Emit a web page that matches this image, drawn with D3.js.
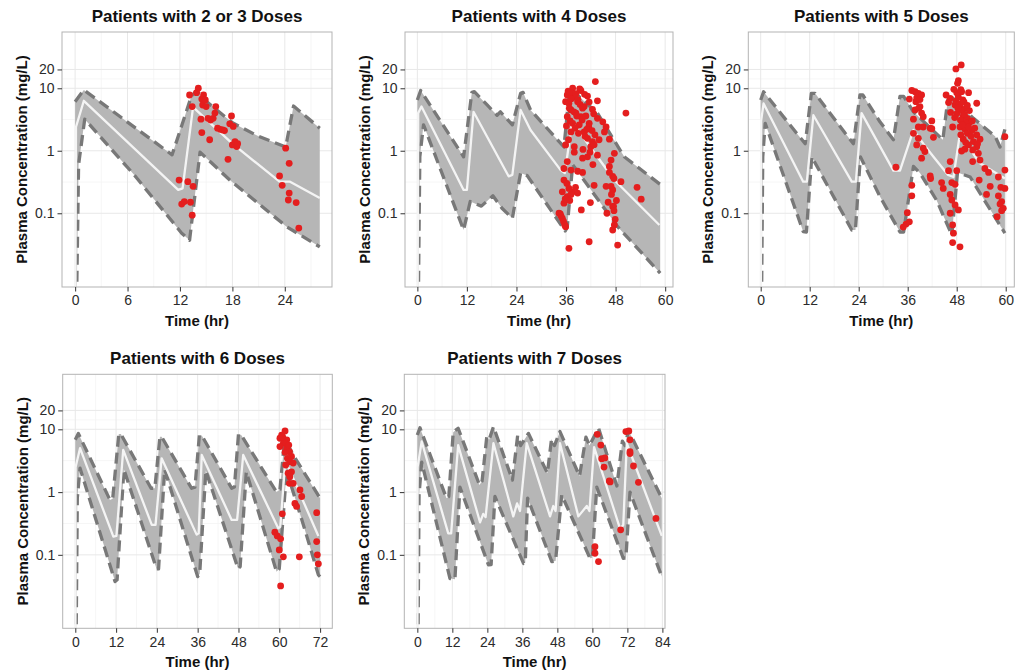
<!DOCTYPE html>
<html>
<head>
<meta charset="utf-8">
<script src="https://cdn.jsdelivr.net/npm/d3@7/dist/d3.min.js"></script>
<style>
  body { margin: 0; background: #fff; }
  svg { display: block; }
</style>
</head>
<body>
<svg id="chart" width="1016" height="672"></svg>
<script>
// ---------------------------------------------------------------
// Visual predictive check: simulated 5th / 50th / 95th percentiles
// (time in hours, concentration in mg/L) with observed concentrations.
// ---------------------------------------------------------------

const panelTitles = [
  "Patients with 2 or 3 Doses",
  "Patients with 4 Doses",
  "Patients with 5 Doses",
  "Patients with 6 Doses",
  "Patients with 7 Doses"
];

const xTicks1 = [0, 6, 12, 18, 24];
const xTicks2 = [0, 12, 24, 36, 48, 60];
const xTicks3 = [0, 12, 24, 36, 48, 60];
const xTicks4 = [0, 12, 24, 36, 48, 60, 72];
const xTicks5 = [0, 12, 24, 36, 48, 60, 72, 84];

const yTicks = [0.1, 1, 10, 20];
const yTickLabels = ["0.1", "1", "10", "20"];
const yTitle = "Plasma Concentration (mg/L)";
const xTitle = "Time (hr)";

// ---- 2 or 3 doses ----
const p1Upper = [[0,6.1],[1.0,9.4],[11.1,0.86],[13.3,7.4],[13.9,9.2],[15,6.2],[18,2.8],[21,1.7],[24.1,1.15],[25.0,5.2],[28,2.3]];
const p1Median = [[0,0.0001],[0.1,2.4],[1.0,6.3],[11.8,0.236],[12.3,0.25],[13.5,5.0],[18,1.3],[23.4,0.32],[24.6,0.32],[28,0.175]];
const p1Lower = [[0,0.0001],[0.4,0.6],[1.1,3.2],[6.7,0.42],[12.2,0.048],[13.1,0.037],[14.3,0.95],[17.7,0.34],[24.2,0.061],[28,0.029]];
const p1Obs = [
  [11.9,0.34],[12.2,0.14],[12.5,0.154],[12.9,0.32],[13.2,0.15],[13.5,0.27],[13.4,0.093],
  [13.1,7.8],[13.4,5.1],[13.9,8.5],[14.1,10],[14.5,6.7],[14.7,7.8],[14.6,5.4],[14.9,6.5],[15.0,5.1],
  [14.4,3.2],[14.5,1.95],[15.2,3.3],[15.4,1.5],[15.5,3.1],[15.8,3.3],[16.0,4.0],[16.1,5.1],[16.3,2.3],
  [16.6,2.2],[16.9,2.15],[17.1,2.1],[17.7,2.7],[17.9,3.6],[18.1,2.45],[17.5,0.73],[18.0,1.24],[18.3,1.4],
  [18.5,1.17],[18.6,1.3],
  [23.4,0.395],[23.7,0.28],[24.1,1.1],[24.5,0.63],[24.5,0.21],[24.4,0.163],[25.3,0.148],[25.6,0.058]
];

// ---- 4 doses ----
const p2Upper = [[0,6.5],[0.8,9.2],[11.2,0.8],[13.2,8.6],[13.8,8.8],[16.9,5.4],[19.3,3.7],[20.1,4.2],[23.0,2.6],[25.0,8.3],[25.6,8.6],[27.4,4.5],[35.5,1.15],[36.8,8.5],[37.5,9.2],[43.6,4.0],[50.1,0.8],[58.8,0.29]];
const p2Median = [[0,0.0001],[0.2,4.0],[1.0,5.1],[11.2,0.236],[12.0,0.236],[13.6,4.2],[22.1,0.39],[23.0,0.41],[25.0,4.5],[27.4,2.15],[34.7,0.49],[35.7,0.44],[37.5,2.9],[41.2,1.32],[47.7,0.34],[58.6,0.065]];
const p2Lower = [[0,0.0001],[0.6,0.8],[1.5,2.6],[11.2,0.054],[12.8,0.154],[15.5,0.13],[18.3,0.19],[20.5,0.12],[23.0,0.083],[25.0,0.44],[26.6,0.4],[35.8,0.052],[36.3,0.06],[37.6,0.6],[48.5,0.061],[58.8,0.011]];
const p2Obs = [
  [43.1,12.8],[37.6,10],[39.6,9.2],[36.3,7.8],[38.0,7.3],[41.2,7.5],[43.6,6.3],[35.9,6.1],[36.7,5.75],
  [38.8,6.1],[40.4,5.1],[42.4,4.6],[50.5,4.0],[37.2,4.5],[38.4,4.0],[36.3,3.5],[39.6,3.5],[43.6,3.3],
  [44.9,2.9],[37.6,2.75],[39.2,2.6],[41.6,2.75],[45.7,2.4],[37.2,2.0],[40.4,2.0],[45.3,2.0],[41.2,1.58],
  [42.4,1.4],[46.5,1.53],[35.9,1.24],[38.0,1.16],[42.0,1.16],[47.7,0.91],[41.2,0.8],[40.0,0.76],[36.3,0.67],
  [46.9,0.71],[46.5,0.56],[35.5,0.52],[37.2,0.49],[38.8,0.47],[40.0,0.45],[47.3,0.39],[46.9,0.27],[35.5,0.34],
  [37.6,0.22],[45.7,0.27],[49.3,0.32],[42.8,0.28],[47.3,0.236],[35.1,0.22],[36.3,0.185],[38.8,0.21],[35.5,0.145],
  [53.2,0.26],[54.2,0.168],[41.9,0.148],[47.3,0.128],[47.5,0.13],[39.7,0.113],[45.9,0.1],[34.6,0.098],[35.1,0.083],
  [35.9,0.061],[47.7,0.065],[47.3,0.054],[41.6,0.035],[48.5,0.031],[36.7,0.0275],[34.3,0.1],[34.8,0.09],[35.4,0.074],
  [35.7,0.065],
  [36.5,9.0],[37.0,8.5],[37.3,6.8],[38.4,8.2],[38.9,6.6],[39.4,5.5],[40.0,4.8],[36.8,4.8],[37.9,4.2],[38.6,3.6],
  [39.9,3.1],[40.8,3.6],[41.5,2.4],[42.3,2.1],[37.0,3.0],[38.2,2.3],[39.0,1.9],[40.6,1.7],[41.0,2.2],[43.0,1.8],
  [44.0,1.5],[42.8,1.25],[36.1,2.5],[36.6,1.5],[40.1,1.05],[41.8,0.95],[43.6,0.85],[38.0,0.95],[39.3,9.8],[40.5,8.0],
  [41.6,6.0],[42.7,3.9],[36.2,0.3],[36.7,0.25],[37.2,0.2],[35.8,0.17],[36.9,0.16],[38.3,0.26],[46.5,0.45],[47.6,0.36],
  [47.0,0.2],[48.2,0.16],[47.6,0.11],[47.9,0.08],[46.2,0.15],[42.5,0.6]
];

// ---- 5 doses ----
const p3Upper = [[0,6.5],[0.7,8.8],[8.8,1.9],[10.9,1.3],[12.4,8.3],[13.3,8.3],[20.7,1.9],[22.7,1.3],[24.3,7.8],[25.0,7.8],[29.2,2.9],[32.5,1.5],[34.1,7.4],[35.0,7.4],[37.4,4.2],[44.6,1.5],[45.8,6.5],[47.0,7.0],[52.1,3.3],[57.4,1.7],[58.6,1.15],[59.8,2.2]];
const p3Median = [[0,0.0001],[0.1,3.0],[0.7,5.7],[10.4,0.32],[11.3,0.32],[12.9,3.7],[22.3,0.32],[23.3,0.32],[24.7,4.0],[32.5,0.48],[34.1,0.48],[37.4,2.15],[39.8,1.3],[42.3,0.8],[45.9,0.41],[47.2,0.38],[48.8,1.9],[51.3,1.05],[53.7,0.63],[59.8,0.36]];
const p3Lower = [[0,0.0001],[0.5,0.8],[1.1,2.75],[10.4,0.051],[11.2,0.05],[12.5,0.8],[22.3,0.054],[23.2,0.054],[24.4,0.8],[29.2,0.185],[34.1,0.05],[35.0,0.05],[37.4,0.56],[39.0,0.44],[43.1,0.16],[46.8,0.045],[48.2,0.45],[51.3,0.38],[53.7,0.21],[59.8,0.048]];
const p3Obs = [
  [33.1,0.545],[37.0,9.2],[37.8,8.8],[38.6,8.3],[39.4,7.8],[36.4,6.7],[38.0,6.1],[39.0,5.1],[37.8,4.5],[39.4,4.0],
  [39.8,3.5],[41.9,3.0],[38.6,2.4],[39.8,2.4],[41.5,2.3],[37.4,3.2],[41.9,2.25],[37.4,1.9],[38.6,1.58],[42.3,1.64],
  [38.2,1.24],[39.8,1.1],[39.4,0.76],[40.2,0.97],[46.4,0.67],[41.5,0.395],[41.6,0.36],[46.0,0.48],[48.0,0.48],
  [44.3,0.31],[46.8,0.31],[47.6,0.29],[37.0,0.28],[44.7,0.25],[46.4,0.2],[37.0,0.19],[46.8,0.163],[47.6,0.136],
  [48.4,0.113],[46.4,0.1],[35.9,0.102],[36.4,0.073],[35.6,0.067],[34.9,0.06],[47.0,0.065],[47.2,0.048],[47.0,0.034],
  [48.8,0.029],
  [47.8,20.4],[49.1,23.6],[48.4,13.2],[48.2,12],[47.3,9.6],[49.2,8.8],[50.9,8.5],[45.4,7.8],[46.4,6.9],[48.4,7.3],
  [49.5,6.5],[52.9,5.75],[46.0,5.9],[47.6,5.4],[48.8,5.1],[50.3,4.8],[51.1,4.4],[46.5,4.1],[48.0,3.9],[49.6,3.6],
  [50.6,3.3],[49.2,3.0],[51.3,2.9],[47.0,2.4],[48.8,2.4],[50.0,2.2],[51.7,2.1],[50.6,1.9],[52.9,1.8],[53.7,1.53],
  [49.6,1.53],[52.1,1.4],[50.9,1.24],[52.9,1.16],[50.0,1.06],[51.9,1.03],[53.3,0.91],[49.2,0.99],[53.7,0.71],
  [51.9,0.67],[59.8,1.68],
  [54.9,0.52],[55.8,0.45],[53.5,0.34],[58.2,0.38],[59.8,0.49],[56.2,0.27],[58.8,0.26],[59.8,0.25],[55.3,0.2],
  [58.2,0.19],[59.0,0.154],[58.6,0.14],[59.4,0.12],[59.0,0.11],[57.9,0.088],
  [47.8,6.2],[48.6,5.6],[49.2,4.4],[49.9,3.8],[50.4,2.8],[48.9,3.1],[49.4,2.6],[47.5,3.4],[50.9,2.4],[51.5,1.7],
  [50.2,1.35],[49.0,1.8],[48.3,4.8],[49.8,6.0],[50.6,5.3],[51.8,3.0],[52.4,2.3],[53.1,1.3],[48.0,8.5],[49.0,9.5],
  [38.2,7.0],[39.0,6.6],[38.7,4.8]
];

// ---- 6 doses ----
const p4Upper = [[0,6.8],[0.9,8.6],[10.2,0.75],[11.0,0.78],[12.8,8.4],[13.4,8.4],[22.3,1.15],[23.4,1.15],[24.9,7.6],[25.4,7.6],[34.2,1.15],[35.2,1.2],[36.5,8.0],[37.2,8.0],[46.0,1.15],[46.8,1.2],[48.0,8.3],[48.8,8.1],[59.2,1.0],[60.2,1.1],[61.5,6.3],[62.3,6.0],[64.1,3.9],[72,0.8]];
const p4Median = [[0,0.0001],[0.1,2.5],[1.4,5.0],[11.2,0.195],[12.1,0.2],[14.1,4.7],[22.5,0.3],[23.6,0.3],[25.4,3.45],[35.7,0.21],[36.3,0.22],[37.2,3.9],[46.0,0.36],[47.6,0.36],[49.4,3.9],[59.7,0.265],[60.3,0.28],[61.8,3.2],[71.5,0.2]];
const p4Lower = [[0,0.0001],[0.6,0.8],[1.4,2.4],[11.7,0.0375],[12.3,0.04],[14.3,2.3],[23.9,0.06],[24.5,0.06],[26.3,2.3],[36.0,0.045],[36.6,0.05],[38.4,2.2],[47.9,0.06],[48.5,0.065],[50.3,2.1],[59.2,0.054],[60.0,0.06],[62.0,1.7],[63.6,1.22],[67.1,0.3],[71.5,0.048],[72,0.045]];
const p4Obs = [
  [61.7,9.4],[60.7,8.1],[60.2,7.2],[62.2,6.8],[61.2,6.0],[60.2,5.3],[62.2,5.0],[63.0,4.4],[61.7,4.3],[63.6,3.7],
  [62.4,3.45],[63.1,3.05],[64.1,2.9],[61.9,2.7],[63.6,2.1],[62.6,2.0],[63.1,1.76],[63.0,1.38],[64.1,1.38],
  [66.1,1.08],[64.6,0.66],[65.1,0.59],[66.6,0.85],[60.9,0.45],[71.0,0.47],[58.7,0.23],[59.4,0.2],[60.4,0.18],
  [60.0,0.12],[61.2,0.093],[65.9,0.093],[71.0,0.163],[71.2,0.1],[71.5,0.072],[60.4,0.032],[61.0,7.6],[62.8,5.6]
];

// ---- 7 doses ----
const p5Upper = [[0,8.1],[0.9,10.6],[10.0,0.8],[10.8,0.85],[12.3,9.0],[14.0,10.4],[21.3,1.3],[22.2,1.5],[23.8,7.5],[24.6,6.8],[26.1,11],[32.6,1.55],[34.4,8.0],[35.4,5.5],[38.1,8.6],[44.6,2.0],[46.0,7.0],[47.0,5.5],[48.9,9.2],[55.6,1.8],[57.8,7.5],[59.0,5.5],[62.1,10.5],[68.4,1.25],[70.3,6.5],[71.2,5.5],[72.4,9.6],[83.8,0.8]];
const p5Median = [[0,0.0001],[0.1,2.5],[1.5,6.4],[10.6,0.22],[11.6,0.22],[14.0,5.6],[21.5,0.33],[22.6,0.45],[23.4,0.4],[26.1,6.0],[32.9,0.41],[34.2,0.66],[35.2,0.5],[37.5,6.0],[45.5,0.41],[46.6,0.6],[47.4,0.5],[48.9,6.0],[55.2,0.41],[58.1,0.6],[59.0,0.5],[60.6,5.2],[69.5,0.26],[70.6,0.3],[71.8,6.0],[83.8,0.2]];
const p5Lower = [[0,0.0001],[0.6,0.9],[1.5,3.0],[11.2,0.042],[12.9,0.041],[14.6,1.2],[24.4,0.069],[25.3,0.07],[26.6,0.85],[36.4,0.073],[37.0,0.075],[37.8,0.8],[46.1,0.078],[47.4,0.08],[49.5,0.9],[59.2,0.088],[60.0,0.09],[61.5,1.2],[70.6,0.088],[71.5,0.09],[72.9,1.0],[83.8,0.045]];
const p5Obs = [
  [61.7,8.3],[62.9,5.6],[63.2,3.4],[64.3,3.5],[64.0,2.5],[65.8,1.5],[66.1,1.45],[60.9,0.135],[60.9,0.106],
  [62.1,0.078],[69.7,0.25],[71.5,9.2],[72.5,9.4],[72.9,6.8],[72.9,4.4],[72.9,4.1],[74.1,2.6],[75.8,1.43],[81.8,0.38]
];

// ---- assemble the five panels ----
const panels = [
  { title: panelTitles[0], xTicks: xTicks1, upper: p1Upper, median: p1Median, lower: p1Lower, obs: p1Obs },
  { title: panelTitles[1], xTicks: xTicks2, upper: p2Upper, median: p2Median, lower: p2Lower, obs: p2Obs },
  { title: panelTitles[2], xTicks: xTicks3, upper: p3Upper, median: p3Median, lower: p3Lower, obs: p3Obs },
  { title: panelTitles[3], xTicks: xTicks4, upper: p4Upper, median: p4Median, lower: p4Lower, obs: p4Obs },
  { title: panelTitles[4], xTicks: xTicks5, upper: p5Upper, median: p5Median, lower: p5Lower, obs: p5Obs }
];

// panel boxes (pixels) and axis extents
const topY = [Math.pow(10, -2.18), Math.pow(10, 1.9)];
const botY = [Math.pow(10, -2.17), Math.pow(10, 1.876)];
const layout = [
  { left: 62,    right: 332,    top: 32,    bottom: 287,   xDomain: [-1.5, 29.4],  yDomain: topY },
  { left: 405,   right: 673,    top: 32,    bottom: 287,   xDomain: [-2.99, 61.9], yDomain: topY },
  { left: 748.3, right: 1014.3, top: 32,    bottom: 287,   xDomain: [-3.04, 62.1], yDomain: topY },
  { left: 62.7,  right: 332.3,  top: 374.3, bottom: 628.3, xDomain: [-3.7, 75.6],  yDomain: botY },
  { left: 404.3, right: 665,    top: 374.3, bottom: 628.3, xDomain: [-4.46, 84.9], yDomain: botY }
];

const FONT = "'Liberation Sans', Arial, Helvetica, sans-serif";
const svg = d3.select("#chart");
const defs = svg.append("defs");

panels.forEach((p, i) => {
  const L = layout[i];
  const x = d3.scaleLinear().domain(L.xDomain).range([L.left, L.right]);
  const y = d3.scaleLog().domain(L.yDomain).range([L.bottom, L.top]);
  const g = svg.append("g");

  defs.append("clipPath").attr("id", "clip" + i)
    .append("rect")
    .attr("x", L.left).attr("y", L.top)
    .attr("width", L.right - L.left).attr("height", L.bottom - L.top);

  // panel background
  g.append("rect")
    .attr("x", L.left).attr("y", L.top)
    .attr("width", L.right - L.left).attr("height", L.bottom - L.top)
    .attr("fill", "#fff");

  // minor grid lines (midpoints in transformed space)
  const step = p.xTicks[1] - p.xTicks[0];
  const xMinor = d3.range(p.xTicks.length + 1)
    .map(k => p.xTicks[0] + (k - 0.5) * step)
    .filter(v => v > L.xDomain[0] && v < L.xDomain[1]);
  const yMinor = [Math.pow(10, -0.5), Math.pow(10, 0.5), Math.pow(10, 1.15)];
  g.selectAll(".xminor").data(xMinor).join("line")
    .attr("x1", d => x(d)).attr("x2", d => x(d))
    .attr("y1", L.top).attr("y2", L.bottom)
    .attr("stroke", "#f4f4f4").attr("stroke-width", 0.8);
  g.selectAll(".yminor").data(yMinor).join("line")
    .attr("x1", L.left).attr("x2", L.right)
    .attr("y1", d => y(d)).attr("y2", d => y(d))
    .attr("stroke", "#f4f4f4").attr("stroke-width", 0.8);

  // major grid lines
  g.selectAll(".xmajor").data(p.xTicks).join("line")
    .attr("x1", d => x(d)).attr("x2", d => x(d))
    .attr("y1", L.top).attr("y2", L.bottom)
    .attr("stroke", "#e8e8e8").attr("stroke-width", 1);
  g.selectAll(".ymajor").data(yTicks).join("line")
    .attr("x1", L.left).attr("x2", L.right)
    .attr("y1", d => y(d)).attr("y2", d => y(d))
    .attr("stroke", "#e8e8e8").attr("stroke-width", 1);

  const plot = g.append("g").attr("clip-path", `url(#clip${i})`);
  const line = d3.line().x(d => x(d[0])).y(d => y(d[1]));

  // 90% prediction interval ribbon
  const ring = p.upper.concat(p.lower.slice().reverse());
  plot.append("path")
    .attr("d", line(ring) + "Z")
    .attr("fill", "#b6b6b6");

  // 5th and 95th percentiles
  [p.upper, p.lower].forEach(curve => {
    plot.append("path")
      .attr("d", line(curve))
      .attr("fill", "none")
      .attr("stroke", "#787878")
      .attr("stroke-width", 3.3)
      .attr("stroke-dasharray", "11,6")
      .attr("stroke-linejoin", "round");
  });

  // median
  plot.append("path")
    .attr("d", line(p.median))
    .attr("fill", "none")
    .attr("stroke", "#f4f4f4")
    .attr("stroke-width", 2.3)
    .attr("stroke-linejoin", "round");

  // observed concentrations
  plot.selectAll("circle").data(p.obs).join("circle")
    .attr("cx", d => x(d[0]))
    .attr("cy", d => y(d[1]))
    .attr("r", 3.4)
    .attr("fill", "#e41e1e");

  // panel border
  g.append("rect")
    .attr("x", L.left).attr("y", L.top)
    .attr("width", L.right - L.left).attr("height", L.bottom - L.top)
    .attr("fill", "none")
    .attr("stroke", "#b3b3b3")
    .attr("stroke-width", 1);

  // axes
  const yAxis = d3.axisLeft(y)
    .tickValues(yTicks)
    .tickFormat((d, k) => yTickLabels[k])
    .tickSize(4.5).tickPadding(3);
  const xAxis = d3.axisBottom(x)
    .tickValues(p.xTicks)
    .tickFormat(d3.format("d"))
    .tickSize(4.5).tickPadding(4);

  const ya = g.append("g").attr("transform", `translate(${L.left},0)`).call(yAxis);
  const xa = g.append("g").attr("transform", `translate(0,${L.bottom})`).call(xAxis);
  [ya, xa].forEach(a => {
    a.select(".domain").remove();
    a.selectAll(".tick line").attr("stroke", "#444").attr("stroke-width", 1.1);
    a.selectAll(".tick text")
      .attr("fill", "#2b2b2b")
      .style("font-family", FONT)
      .style("font-size", "14px");
  });

  // titles
  const cx = (L.left + L.right) / 2;
  const cy = (L.top + L.bottom) / 2;
  g.append("text")
    .attr("x", cx).attr("y", L.top - 10.5)
    .attr("text-anchor", "middle")
    .style("font-family", FONT).style("font-weight", "bold").style("font-size", "17px")
    .attr("fill", "#111")
    .text(p.title);
  g.append("text")
    .attr("x", cx).attr("y", L.bottom + 39)
    .attr("text-anchor", "middle")
    .style("font-family", FONT).style("font-weight", "bold").style("font-size", "15px")
    .attr("fill", "#111")
    .text(xTitle);
  g.append("text")
    .attr("transform", `translate(${L.left - 35},${cy}) rotate(-90)`)
    .attr("text-anchor", "middle")
    .style("font-family", FONT).style("font-weight", "bold").style("font-size", "15px")
    .attr("fill", "#111")
    .text(yTitle);
});
</script>
</body>
</html>
